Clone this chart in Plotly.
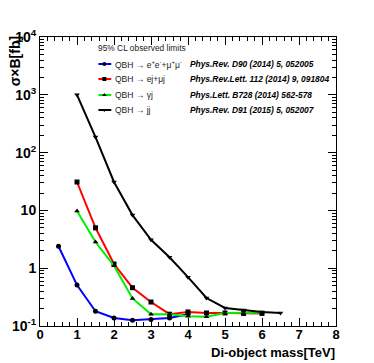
import plotly.graph_objects as go

# ---- data ----
mass_ll = [0.5, 1.0, 1.5, 2.0, 2.5, 3.0, 3.5, 4.0]
xsec_ll = [2.4, 0.51, 0.18, 0.138, 0.126, 0.13, 0.138, 0.16]

mass_lj = [1.0, 1.5, 2.0, 2.5, 3.0, 3.5, 4.0, 4.5, 5.0, 5.5, 6.0]
xsec_lj = [31, 5.0, 1.18, 0.46, 0.26, 0.16, 0.175, 0.168, 0.168, 0.165, 0.165]

mass_gj = [1.0, 1.5, 2.0, 2.5, 3.0, 3.5, 4.0, 4.5, 5.0, 5.5, 6.0]
xsec_gj = [9.8, 2.84, 1.1, 0.30, 0.16, 0.16, 0.148, 0.145, 0.168, 0.17, 0.17]

mass_jj = [1.0, 1.5, 2.0, 2.5, 3.0, 3.5, 4.0, 4.5, 5.0, 5.5, 6.0, 6.5]
xsec_jj = [1000, 186, 31, 8.3, 3.1, 1.55, 0.70, 0.305, 0.205, 0.19, 0.175, 0.168]

labels = ["QBH \u2192 e<sup>+</sup>e<sup>-</sup>+\u03bc<sup>+</sup>\u03bc<sup>-</sup>",
          "QBH \u2192 ej+\u03bcj",
          "QBH \u2192 \u03b3j",
          "QBH \u2192 jj"]
refs = ["Phys.Rev. D90 (2014) 5, 052005",
        "Phys.Rev.Lett. 112 (2014) 9, 091804",
        "Phys.Lett. B728 (2014) 562-578",
        "Phys.Rev. D91 (2015) 5, 052007"]
colors = ["#0000ff", "#ff0000", "#00ee00", "#000000"]
symbols = ["circle", "square", "triangle-up", "triangle-down"]

y_tickvals = [0.1, 1, 10, 100, 1000, 10000]
y_ticktext = ["10<sup>-1</sup>", "1", "10", "10<sup>2</sup>", "10<sup>3</sup>", "10<sup>4</sup>"]
x_tickvals = [0, 1, 2, 3, 4, 5, 6, 7, 8]

W, H = 374, 363
L, R, T, B = 37, 38, 37, 37
PW, PH = W - L - R, H - T - B
FONT = "Liberation Sans, Arial, sans-serif"


def px(xp):
    return (xp - L) / PW


def py(yp):
    return (H - B - yp) / PH


fig = go.Figure()
series = [(mass_ll, xsec_ll), (mass_lj, xsec_lj), (mass_gj, xsec_gj), (mass_jj, xsec_jj)]
for (xs, ys), c, s, lab in zip(series, colors, symbols, labels):
    fig.add_trace(go.Scatter(x=xs, y=ys, mode="lines+markers", name=lab,
                             line=dict(color=c, width=2),
                             marker=dict(symbol=s, size=5, color="black"),
                             showlegend=False))

# ---- custom legend drawn on a pixel-scaled overlay axis ----
leg_y = [64, 79, 95, 110]
for i in range(4):
    fig.add_trace(go.Scatter(x=[96, 102, 109], y=[leg_y[i]] * 3, mode="lines",
                             line=dict(color=colors[i], width=2),
                             xaxis="x2", yaxis="y2", showlegend=False, hoverinfo="skip"))
    fig.add_trace(go.Scatter(x=[102], y=[leg_y[i]], mode="markers",
                             marker=dict(symbol=symbols[i], size=4, color="black"),
                             xaxis="x2", yaxis="y2", showlegend=False, hoverinfo="skip"))
    fig.add_annotation(x=px(111), y=py(leg_y[i]), xref="paper", yref="paper", text=labels[i],
                       showarrow=False, xanchor="left", yanchor="middle",
                       font=dict(family=FONT, size=8.5, color="#222"))
    fig.add_annotation(x=px(187), y=py(leg_y[i]), xref="paper", yref="paper",
                       text="<b><i>" + refs[i] + "</i></b>",
                       showarrow=False, xanchor="left", yanchor="middle",
                       font=dict(family=FONT, size=8.4, color="black"))
fig.add_annotation(x=px(94), y=py(48), xref="paper", yref="paper", text="95% CL observed limits",
                   showarrow=False, xanchor="left", yanchor="middle",
                   font=dict(family=FONT, size=8.4, color="#222"))

# axis titles
fig.add_annotation(x=px(337), y=py(352), xref="paper", yref="paper", text="<b>Di-object mass[TeV]</b>",
                   showarrow=False, xanchor="right", yanchor="middle",
                   font=dict(family=FONT, size=13, color="black"))
fig.add_annotation(x=px(12), y=py(34), xref="paper", yref="paper", text="<b>\u03c3\u00d7B[fb]</b>",
                   textangle=-90, showarrow=False, xanchor="center", yanchor="top",
                   font=dict(family=FONT, size=14, color="black"))

fig.update_layout(
    width=W, height=H,
    margin=dict(l=L, r=R, t=T, b=B),
    paper_bgcolor="white", plot_bgcolor="white",
    showlegend=False,
    xaxis=dict(range=[0, 8], tickvals=x_tickvals, ticks="inside", ticklen=8,
               tickcolor="black", mirror="allticks", showline=True, linecolor="black",
               linewidth=1, showgrid=False, zeroline=False, ticklabelstandoff=-4,
               minor=dict(ticks="inside", dtick=0.2, tick0=0, ticklen=4, tickcolor="black", showgrid=False),
               tickfont=dict(family=FONT, size=13, color="black", weight="bold")),
    yaxis=dict(type="log", range=[-1, 4], tickvals=y_tickvals, ticktext=y_ticktext,
               ticks="inside", ticklen=8, tickcolor="black", mirror="allticks",
               showline=True, linecolor="black", linewidth=1, showgrid=False, zeroline=False,
               minor=dict(ticks="inside", ticklen=4, tickcolor="black", showgrid=False, dtick="D1"),
               tickfont=dict(family=FONT, size=14, color="black", weight="bold")),
    xaxis2=dict(range=[L, W - R], overlaying="x", visible=False, fixedrange=True),
    yaxis2=dict(range=[H - B, T], overlaying="y", visible=False, fixedrange=True),
)

fig.write_html("out.html", post_script="document.body.style.margin='0';",
               config={"displayModeBar": False})
